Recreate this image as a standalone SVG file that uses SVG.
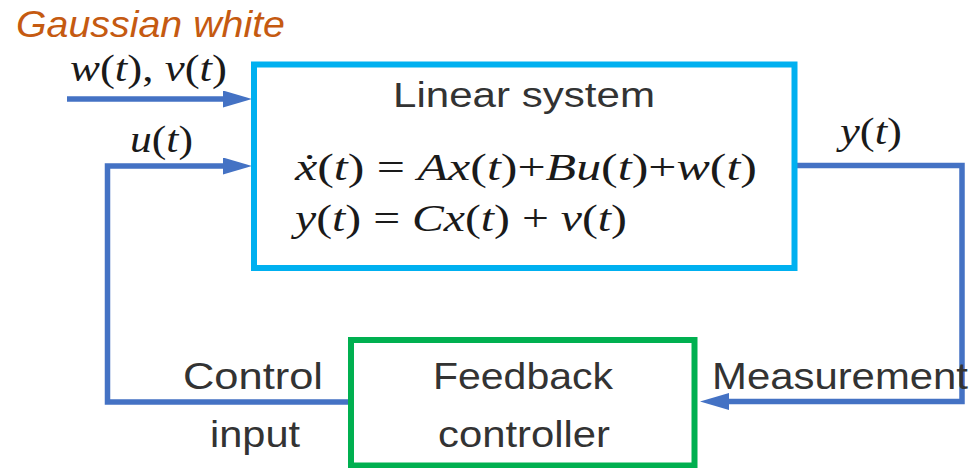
<svg xmlns="http://www.w3.org/2000/svg" width="971" height="468" viewBox="0 0 971 468">
<style>
.sans{font-family:"Liberation Sans",Arial,sans-serif;fill:#333333}
.math{font-family:"Liberation Serif","Times New Roman",serif;fill:#1a1a1a;font-style:italic;font-size:37px}
.up{font-style:normal}
.conn{fill:none;stroke:#4472C4;stroke-width:5.5;stroke-linejoin:miter}
.box{fill:#ffffff;stroke-width:6}
</style>
<defs>
<marker id="arr" markerUnits="userSpaceOnUse" markerWidth="30" markerHeight="18" viewBox="0 0 30 18" refX="9" refY="8.5" orient="auto">
<path d="M0,0 L29,8.5 L0,17 z" fill="#4472C4"/>
</marker>
</defs>
<rect width="971" height="468" fill="#ffffff"/>
<text x="16" y="37" class="sans" style="fill:#C55A11;font-style:italic;font-size:36px" textLength="269" lengthAdjust="spacingAndGlyphs">Gaussian white</text>
<g id="connectors">
<path class="conn" d="M67,99 H232" marker-end="url(#arr)"/>
<path class="conn" d="M351,402 H107.5 V166 H232" marker-end="url(#arr)"/>
<path class="conn" d="M795,165.5 H962 V401.5 H720" marker-end="url(#arr)"/>
</g>
<g id="linear-system">
<rect class="box" x="254" y="64.5" width="540.5" height="203.5" stroke="#00B0F0"/>
<text x="393" y="107" class="sans" style="font-size:35px" textLength="262" lengthAdjust="spacingAndGlyphs">Linear system</text>
<text x="295" y="180" class="math" textLength="462" lengthAdjust="spacingAndGlyphs">ẋ<tspan class="up">(</tspan>t<tspan class="up">) = </tspan>Ax<tspan class="up">(</tspan>t<tspan class="up">)+</tspan>Bu<tspan class="up">(</tspan>t<tspan class="up">)+</tspan>w<tspan class="up">(</tspan>t<tspan class="up">)</tspan></text>
<text x="295" y="231" class="math" textLength="332" lengthAdjust="spacingAndGlyphs">y<tspan class="up">(</tspan>t<tspan class="up">) = </tspan>Cx<tspan class="up">(</tspan>t<tspan class="up">) + </tspan>v<tspan class="up">(</tspan>t<tspan class="up">)</tspan></text>
</g>
<g id="feedback-controller">
<rect class="box" x="351" y="340" width="343.5" height="125.5" stroke="#00B050"/>
<text x="433" y="389" class="sans" style="font-size:37px" textLength="180" lengthAdjust="spacingAndGlyphs">Feedback</text>
<text x="438" y="447" class="sans" style="font-size:37px" textLength="172" lengthAdjust="spacingAndGlyphs">controller</text>
</g>
<g id="labels">
<text x="70" y="81" class="math" textLength="157" lengthAdjust="spacingAndGlyphs">w<tspan class="up">(</tspan>t<tspan class="up">), </tspan>v<tspan class="up">(</tspan>t<tspan class="up">)</tspan></text>
<text x="130" y="152" class="math" textLength="63" lengthAdjust="spacingAndGlyphs">u<tspan class="up">(</tspan>t<tspan class="up">)</tspan></text>
<text x="840" y="144" class="math" textLength="62" lengthAdjust="spacingAndGlyphs">y<tspan class="up">(</tspan>t<tspan class="up">)</tspan></text>
<text x="183" y="389" class="sans" style="font-size:37px" textLength="140" lengthAdjust="spacingAndGlyphs">Control</text>
<text x="210" y="447" class="sans" style="font-size:37px" textLength="90" lengthAdjust="spacingAndGlyphs">input</text>
<text x="712" y="389" class="sans" style="font-size:37px" textLength="256" lengthAdjust="spacingAndGlyphs">Measurement</text>
</g>
</svg>
